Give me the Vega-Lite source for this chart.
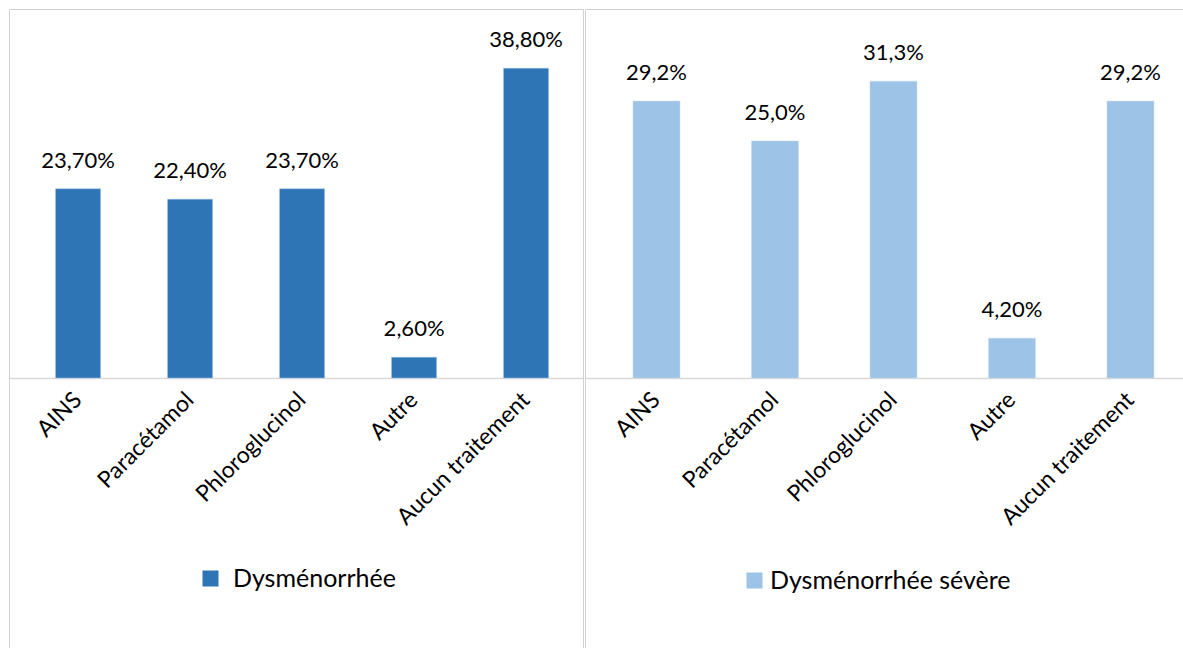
{
  "$schema": "https://vega.github.io/schema/vega-lite/v6.json",
  "padding": {"left": 8, "top": 8, "right": 0, "bottom": 0},
  "spacing": 0,
  "background": "white",
  "datasets": {
    "left": [
      {"cat": "AINS", "value": 23.7, "label": "23,70%", "series": "Dysménorrhée"},
      {"cat": "Paracétamol", "value": 22.4, "label": "22,40%", "series": "Dysménorrhée"},
      {"cat": "Phloroglucinol", "value": 23.7, "label": "23,70%", "series": "Dysménorrhée"},
      {"cat": "Autre", "value": 2.6, "label": "2,60%", "series": "Dysménorrhée"},
      {"cat": "Aucun traitement", "value": 38.8, "label": "38,80%", "series": "Dysménorrhée"}
    ],
    "right": [
      {"cat": "AINS", "value": 29.2, "label": "29,2%", "series": "Dysménorrhée sévère"},
      {"cat": "Paracétamol", "value": 25.0, "label": "25,0%", "series": "Dysménorrhée sévère"},
      {"cat": "Phloroglucinol", "value": 31.3, "label": "31,3%", "series": "Dysménorrhée sévère"},
      {"cat": "Autre", "value": 4.2, "label": "4,20%", "series": "Dysménorrhée sévère"},
      {"cat": "Aucun traitement", "value": 29.2, "label": "29,2%", "series": "Dysménorrhée sévère"}
    ]
  },
  "config": {
    "font": "Lato",
    "view": {"stroke": "#d0d0d0", "strokeWidth": 1},
    "axis": {"grid": false}
  },
  "hconcat": [
    {
      "width": 574,
      "height": 640,
      "data": {"name": "left"},
      "encoding": {
        "x": {
          "field": "cat", "type": "nominal", "sort": null,
          "scale": {"paddingInner": 0.598, "paddingOuter": 0.3615, "align": 0.575},
          "axis": {"title": null, "orient": "bottom", "offset": -271, "labelAngle": -45, "labelAlign": "right", "labelBaseline": "middle", "labelPadding": 18, "ticks": false, "domainColor": "#d9d9d9", "domainWidth": 1.5, "labelFontSize": 23, "labelColor": "#000000", "labelFont": "Lato", "labelLimit": 400}
        },
        "y": {
          "field": "value", "type": "quantitative",
          "scale": {"domain": [-33.95, 46.22], "zero": false, "nice": false},
          "axis": null
        }
      },
      "layer": [
        {
          "mark": {"type": "bar", "stroke": "#9dc3e6", "strokeWidth": 0.5},
          "encoding": {
            "y2": {"datum": 0},
            "color": {"field": "series", "type": "nominal", "scale": {"range": ["#2e75b6"]},
              "legend": {"title": null, "orient": "none", "legendX": 189, "legendY": 557, "symbolType": "square", "symbolSize": 256, "symbolStrokeWidth": 0, "labelFontSize": 25, "labelOffset": 10, "labelColor": "#000000", "labelFont": "Lato", "labelLimit": 500}}
          }
        },
        {
          "mark": {"type": "text", "baseline": "alphabetic", "dy": -21, "fontSize": 22, "color": "#000000"},
          "encoding": {"text": {"field": "label"}}
        }
      ]
    },
    {
      "width": 598,
      "height": 640,
      "data": {"name": "right"},
      "encoding": {
        "x": {
          "field": "cat", "type": "nominal", "sort": null,
          "scale": {"paddingInner": 0.6034, "paddingOuter": 0.325, "align": 0.623},
          "axis": {"title": null, "orient": "bottom", "offset": -271, "labelAngle": -45, "labelAlign": "right", "labelBaseline": "middle", "labelPadding": 18, "ticks": false, "domainColor": "#d9d9d9", "domainWidth": 1.5, "labelFontSize": 23, "labelColor": "#000000", "labelFont": "Lato", "labelLimit": 400}
        },
        "y": {
          "field": "value", "type": "quantitative",
          "scale": {"domain": [-28.58, 38.91], "zero": false, "nice": false},
          "axis": null
        }
      },
      "layer": [
        {
          "mark": {"type": "bar", "stroke": "#c5dcf0", "strokeWidth": 0.5},
          "encoding": {
            "y2": {"datum": 0},
            "color": {"field": "series", "type": "nominal", "scale": {"range": ["#9dc3e6"]},
              "legend": {"title": null, "orient": "none", "legendX": 157, "legendY": 559, "symbolType": "square", "symbolSize": 256, "symbolStrokeWidth": 0, "labelFontSize": 25, "labelOffset": 3, "labelColor": "#000000", "labelFont": "Lato", "labelLimit": 500}}
          }
        },
        {
          "mark": {"type": "text", "baseline": "alphabetic", "dy": -21, "fontSize": 22, "color": "#000000"},
          "encoding": {"text": {"field": "label"}}
        }
      ]
    }
  ],
  "resolve": {"scale": {"color": "independent", "x": "independent", "y": "independent"}}
}
